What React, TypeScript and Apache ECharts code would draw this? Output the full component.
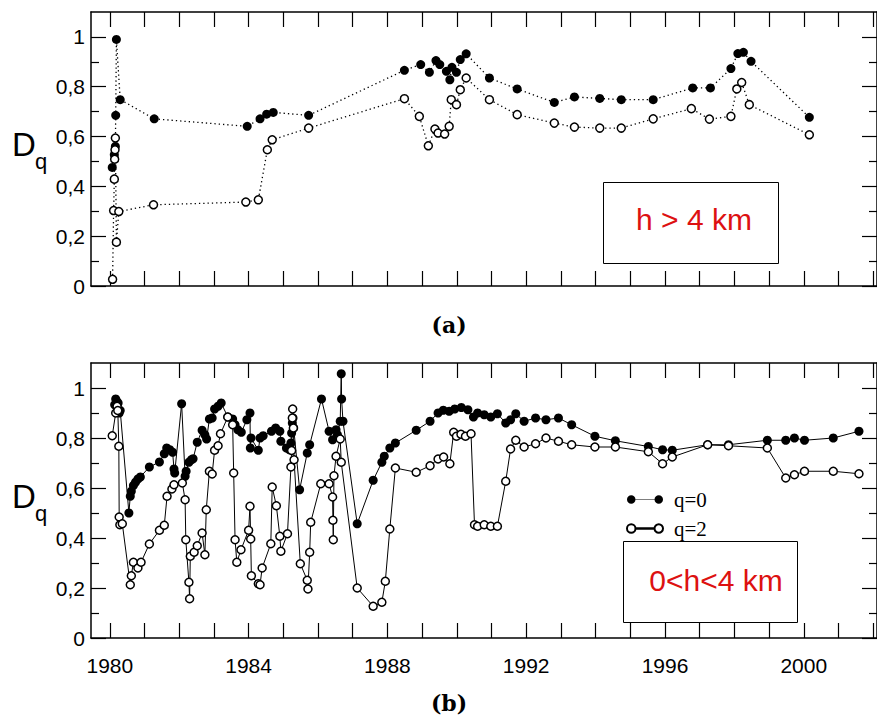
import React, { useEffect, useRef } from "react";
import * as echarts from "echarts";

// ---- Data (year, Dq) ----
const topQ0: [number, number][] = [
  [1980.07, 0.476], [1980.13, 0.527], [1980.16, 0.56], [1980.17, 0.685], [1980.19, 0.99],
  [1980.30, 0.748], [1981.28, 0.671], [1983.96, 0.641], [1984.33, 0.671], [1984.52, 0.69],
  [1984.71, 0.697], [1985.73, 0.685], [1988.49, 0.866], [1988.96, 0.889], [1989.21, 0.858],
  [1989.40, 0.905], [1989.51, 0.889], [1989.70, 0.862], [1989.80, 0.828], [1989.86, 0.878],
  [1989.99, 0.858], [1990.10, 0.909], [1990.27, 0.932], [1990.94, 0.835], [1991.74, 0.791],
  [1992.81, 0.737], [1993.39, 0.759], [1994.12, 0.753], [1994.74, 0.748], [1995.66, 0.748],
  [1996.80, 0.795], [1997.31, 0.795], [1997.90, 0.873], [1998.10, 0.933], [1998.26, 0.938],
  [1998.48, 0.902], [2000.16, 0.677],
];

const topQ2: [number, number][] = [
  [1980.08, 0.027], [1980.11, 0.303], [1980.13, 0.429], [1980.14, 0.509], [1980.15, 0.547],
  [1980.16, 0.594], [1980.19, 0.176], [1980.26, 0.299], [1981.26, 0.326], [1983.92, 0.337],
  [1984.28, 0.346], [1984.54, 0.547], [1984.68, 0.587], [1985.73, 0.634], [1988.49, 0.752],
  [1988.92, 0.681], [1989.18, 0.563], [1989.37, 0.63], [1989.46, 0.614], [1989.65, 0.61],
  [1989.78, 0.641], [1989.84, 0.748], [1989.99, 0.728], [1990.10, 0.788], [1990.27, 0.835],
  [1990.94, 0.748], [1991.74, 0.688], [1992.81, 0.654], [1993.39, 0.638], [1994.12, 0.634],
  [1994.74, 0.634], [1995.66, 0.671], [1996.76, 0.712], [1997.28, 0.67], [1997.90, 0.681],
  [1998.07, 0.791], [1998.21, 0.817], [1998.43, 0.728], [2000.16, 0.607],
];

const bottomQ0: [number, number][] = [
  [1980.14, 0.933], [1980.17, 0.956], [1980.20, 0.947], [1980.24, 0.94], [1980.27, 0.9],
  [1980.30, 0.91], [1980.55, 0.5], [1980.59, 0.567], [1980.62, 0.587], [1980.68, 0.61],
  [1980.74, 0.623], [1980.81, 0.636], [1980.88, 0.644], [1981.14, 0.684], [1981.43, 0.704],
  [1981.57, 0.737], [1981.64, 0.76], [1981.73, 0.753], [1981.81, 0.743], [1981.85, 0.676],
  [1981.87, 0.66], [1982.07, 0.937], [1982.17, 0.647], [1982.20, 0.667], [1982.28, 0.703],
  [1982.35, 0.713], [1982.40, 0.717], [1982.52, 0.783], [1982.66, 0.831], [1982.74, 0.813],
  [1982.79, 0.796], [1982.87, 0.876], [1982.95, 0.88], [1983.02, 0.916], [1983.12, 0.927],
  [1983.21, 0.94], [1983.40, 0.884], [1983.54, 0.876], [1983.61, 0.853], [1983.69, 0.833],
  [1983.79, 0.823], [1983.95, 0.873], [1984.04, 0.9], [1984.05, 0.76], [1984.07, 0.8],
  [1984.28, 0.751], [1984.33, 0.8], [1984.42, 0.809], [1984.66, 0.827], [1984.78, 0.84],
  [1984.90, 0.827], [1984.93, 0.787], [1985.09, 0.76], [1985.18, 0.753], [1985.22, 0.78],
  [1985.24, 0.82], [1985.26, 0.86], [1985.28, 0.88], [1985.30, 0.84], [1985.47, 0.593],
  [1985.69, 0.74], [1985.76, 0.773], [1986.10, 0.956], [1986.32, 0.827], [1986.42, 0.793],
  [1986.52, 0.833], [1986.56, 0.813], [1986.64, 0.867], [1986.67, 1.057], [1986.68, 0.956],
  [1986.72, 0.867], [1987.13, 0.457], [1987.59, 0.631], [1987.84, 0.703], [1987.91, 0.727],
  [1988.07, 0.76], [1988.23, 0.78], [1988.83, 0.831], [1989.23, 0.867], [1989.46, 0.9],
  [1989.61, 0.911], [1989.78, 0.907], [1989.94, 0.916], [1990.13, 0.922], [1990.32, 0.913],
  [1990.48, 0.884], [1990.60, 0.9], [1990.79, 0.893], [1990.98, 0.884], [1991.17, 0.897],
  [1991.41, 0.86], [1991.55, 0.873], [1991.70, 0.897], [1991.94, 0.867], [1992.27, 0.88],
  [1992.57, 0.873], [1992.93, 0.88], [1993.31, 0.853], [1993.98, 0.807], [1994.57, 0.789],
  [1995.52, 0.766], [1995.93, 0.753], [1996.21, 0.751], [1997.23, 0.773], [1997.83, 0.773],
  [1998.95, 0.791], [1999.48, 0.791], [1999.73, 0.8], [2000.02, 0.791], [2000.85, 0.8],
  [2001.59, 0.827],
];

const bottomQ2: [number, number][] = [
  [1980.07, 0.809], [1980.17, 0.9], [1980.21, 0.927], [1980.23, 0.91], [1980.26, 0.767],
  [1980.27, 0.484], [1980.29, 0.453], [1980.36, 0.457], [1980.59, 0.213], [1980.62, 0.249],
  [1980.68, 0.303], [1980.81, 0.28], [1980.90, 0.303], [1981.14, 0.376], [1981.43, 0.431],
  [1981.57, 0.451], [1981.65, 0.567], [1981.79, 0.596], [1981.85, 0.613], [1982.09, 0.62],
  [1982.17, 0.553], [1982.19, 0.393], [1982.28, 0.223], [1982.30, 0.157], [1982.32, 0.327],
  [1982.43, 0.343], [1982.52, 0.369], [1982.66, 0.42], [1982.74, 0.333], [1982.78, 0.513],
  [1982.87, 0.667], [1982.95, 0.656], [1983.02, 0.751], [1983.12, 0.769], [1983.19, 0.817],
  [1983.40, 0.884], [1983.54, 0.853], [1983.57, 0.66], [1983.61, 0.393], [1983.66, 0.303],
  [1983.78, 0.353], [1984.00, 0.431], [1984.04, 0.527], [1984.06, 0.396], [1984.08, 0.249],
  [1984.28, 0.217], [1984.33, 0.213], [1984.39, 0.28], [1984.64, 0.377], [1984.68, 0.604],
  [1984.80, 0.529], [1984.90, 0.407], [1984.93, 0.347], [1985.12, 0.417], [1985.22, 0.684],
  [1985.24, 0.75], [1985.26, 0.88], [1985.27, 0.916], [1985.29, 0.84], [1985.31, 0.713],
  [1985.49, 0.297], [1985.69, 0.231], [1985.71, 0.196], [1985.76, 0.343], [1985.79, 0.463],
  [1986.08, 0.617], [1986.32, 0.617], [1986.42, 0.564], [1986.43, 0.471], [1986.44, 0.393],
  [1986.46, 0.649], [1986.52, 0.727], [1986.64, 0.796], [1986.67, 0.703], [1987.13, 0.2],
  [1987.59, 0.127], [1987.84, 0.143], [1987.94, 0.227], [1988.07, 0.436], [1988.23, 0.68],
  [1988.83, 0.663], [1989.23, 0.689], [1989.46, 0.716], [1989.62, 0.724], [1989.80, 0.697],
  [1989.91, 0.823], [1989.99, 0.807], [1990.12, 0.815], [1990.25, 0.807], [1990.41, 0.817],
  [1990.51, 0.453], [1990.60, 0.447], [1990.79, 0.453], [1990.98, 0.447], [1991.17, 0.447],
  [1991.41, 0.627], [1991.55, 0.756], [1991.70, 0.791], [1991.94, 0.764], [1992.27, 0.777],
  [1992.57, 0.8], [1992.93, 0.787], [1993.31, 0.773], [1993.98, 0.764], [1994.57, 0.764],
  [1995.52, 0.745], [1995.93, 0.697], [1996.21, 0.724], [1997.23, 0.773], [1997.83, 0.769],
  [1998.95, 0.76], [1999.48, 0.64], [1999.73, 0.653], [2000.02, 0.667], [2000.85, 0.667],
  [2001.59, 0.657],
];

// ---- Ticks / labels ----
const yearTicks = [1980, 1981, 1982, 1983, 1984, 1985, 1986, 1987, 1988, 1989, 1990, 1991,
  1992, 1993, 1994, 1995, 1996, 1997, 1998, 1999, 2000, 2001, 2002];
const yearLabels = [1980, 1984, 1988, 1992, 1996, 2000];
const yMajor = [0, 0.2, 0.4, 0.6, 0.8, 1];
const yMinor = [0.1, 0.3, 0.5, 0.7, 0.9];
const seriesNames = ["q=0", "q=2"];
const boxLabels = ["h > 4 km", "0<h<4 km"];
const captions = ["(a)", "(b)"];

const X_MIN = 1979.458;
const X_MAX = 2002.11;
const Y_MAX = 1.1;

const fmtY = (v: number) => {
  if (Math.abs(v) < 1e-9) return "0";
  if (Math.abs(v - 1) < 1e-9) return "1";
  return v.toFixed(1).replace(".", ",");
};

// legend icon: marker — line — marker
const legendIcon =
  "path://M1,5A4,4 0 1,1 9,5A4,4 0 1,1 1,5Z M27,5A4,4 0 1,1 35,5A4,4 0 1,1 27,5Z M9,4.8L27,4.8L27,5.2L9,5.2Z";

export default function App() {
  const ref = useRef<HTMLDivElement>(null);

  useEffect(() => {
    if (!ref.current) return;
    const chart = echarts.init(ref.current, null, { renderer: "svg" });

    const frameLine = { show: true, onZero: false, lineStyle: { color: "#000", width: 1.5 } };
    const tickStyle = { color: "#000", width: 1.2 };

    const xAxes: any[] = [];
    const yAxes: any[] = [];
    [0, 1].forEach((g) => {
      xAxes.push({
        type: "value", gridIndex: g, min: X_MIN, max: X_MAX, position: "bottom",
        axisLine: frameLine,
        axisTick: { show: true, inside: true, length: 15, customValues: yearTicks, lineStyle: tickStyle },
        axisLabel: {
          show: g === 1, customValues: yearLabels, margin: 17, color: "#000",
          fontFamily: "Liberation Sans", fontSize: 21, formatter: (v: number) => String(v),
        },
        splitLine: { show: false },
      });
      xAxes.push({
        type: "value", gridIndex: g, min: X_MIN, max: X_MAX, position: "top",
        axisLine: frameLine,
        axisTick: { show: true, inside: true, length: 15, customValues: yearTicks, lineStyle: tickStyle },
        axisLabel: { show: false },
        splitLine: { show: false },
      });
      ["left", "right"].forEach((pos) => {
        yAxes.push({
          type: "value", gridIndex: g, min: 0, max: Y_MAX, position: pos,
          axisLine: frameLine,
          axisTick: { show: true, inside: true, length: 15, customValues: yMajor, lineStyle: tickStyle },
          axisLabel: {
            show: pos === "left", customValues: yMajor, margin: 6, color: "#000",
            fontFamily: "Liberation Sans", fontSize: 21, formatter: fmtY,
          },
          splitLine: { show: false },
        });
        yAxes.push({
          type: "value", gridIndex: g, min: 0, max: Y_MAX, position: pos,
          axisLine: { show: false, onZero: false },
          axisTick: { show: true, inside: true, length: 8, customValues: yMinor, lineStyle: tickStyle },
          axisLabel: { show: false },
          splitLine: { show: false },
        });
      });
    });

    const filled = { color: "#000" };
    const open = { color: "#fff", borderColor: "#000", borderWidth: 1.5 };
    const dotted = { color: "#000", width: 1.3, type: [1.3, 3] as any };
    const solid = { color: "#000", width: 1 };

    const series: any[] = [
      { name: "q=0 (a)", type: "line", xAxisIndex: 0, yAxisIndex: 0, data: topQ0,
        symbol: "circle", symbolSize: 9, itemStyle: filled, lineStyle: dotted, z: 3 },
      { name: "q=2 (a)", type: "line", xAxisIndex: 0, yAxisIndex: 0, data: topQ2,
        symbol: "circle", symbolSize: 8, itemStyle: open, lineStyle: dotted, z: 3 },
      { name: seriesNames[0], type: "line", xAxisIndex: 2, yAxisIndex: 4, data: bottomQ0,
        symbol: "circle", symbolSize: 9, itemStyle: filled, lineStyle: solid, z: 3 },
      { name: seriesNames[1], type: "line", xAxisIndex: 2, yAxisIndex: 4, data: bottomQ2,
        symbol: "circle", symbolSize: 8, itemStyle: open, lineStyle: solid, z: 3 },
    ];

    const red = "#dd1111";
    const graphic: any[] = [
      // Dq labels
      { type: "text", left: 12, top: 128, style: { text: "D", fontFamily: "Liberation Sans", fontSize: 33, fill: "#000" } },
      { type: "text", left: 35, top: 150, style: { text: "q", fontFamily: "Liberation Sans", fontSize: 22, fill: "#000" } },
      { type: "text", left: 12, top: 480, style: { text: "D", fontFamily: "Liberation Sans", fontSize: 33, fill: "#000" } },
      { type: "text", left: 35, top: 502, style: { text: "q", fontFamily: "Liberation Sans", fontSize: 22, fill: "#000" } },
      // boxes
      { type: "rect", z: 1, shape: { x: 603.5, y: 182.5, width: 175, height: 81 }, style: { fill: "#fff", stroke: "#000", lineWidth: 1 } },
      { type: "text", x: 694, y: 219, z: 2, style: { text: boxLabels[0], fontFamily: "Liberation Sans", fontSize: 30, fill: red, align: "center", verticalAlign: "middle" } },
      { type: "rect", z: 1, shape: { x: 623.5, y: 541.5, width: 174, height: 81 }, style: { fill: "#fff", stroke: "#000", lineWidth: 1 } },
      { type: "text", x: 716, y: 580, z: 2, style: { text: boxLabels[1], fontFamily: "Liberation Sans", fontSize: 30, fill: red, align: "center", verticalAlign: "middle" } },
      // captions
      { type: "text", x: 449, y: 325, style: { text: captions[0], fontFamily: "DejaVu Serif", fontWeight: "bold", fontSize: 22, fill: "#000", align: "center", verticalAlign: "middle" } },
      { type: "text", x: 449, y: 703, style: { text: captions[1], fontFamily: "DejaVu Serif", fontWeight: "bold", fontSize: 22, fill: "#000", align: "center", verticalAlign: "middle" } },
    ];

    chart.setOption({
      animation: false,
      backgroundColor: "#fff",
      grid: [
        { left: 91, top: 12, width: 794, height: 274, containLabel: false },
        { left: 91, top: 363, width: 794, height: 275, containLabel: false },
      ],
      xAxis: xAxes,
      yAxis: yAxes,
      legend: {
        data: seriesNames.map((n) => ({ name: n, icon: legendIcon })),
        orient: "vertical",
        left: 621,
        top: 484,
        z: 20,
        itemWidth: 36,
        itemHeight: 10,
        itemGap: 8,
        textStyle: { fontFamily: "Liberation Serif", fontSize: 21, color: "#000", padding: [0, 0, 0, 6] },
      },
      series,
      graphic,
    });

    return () => chart.dispose();
  }, []);

  return (
    <div
      ref={ref}
      style={{ position: "fixed", left: 0, top: 0, width: 877, height: 717, background: "#fff" }}
    />
  );
}
